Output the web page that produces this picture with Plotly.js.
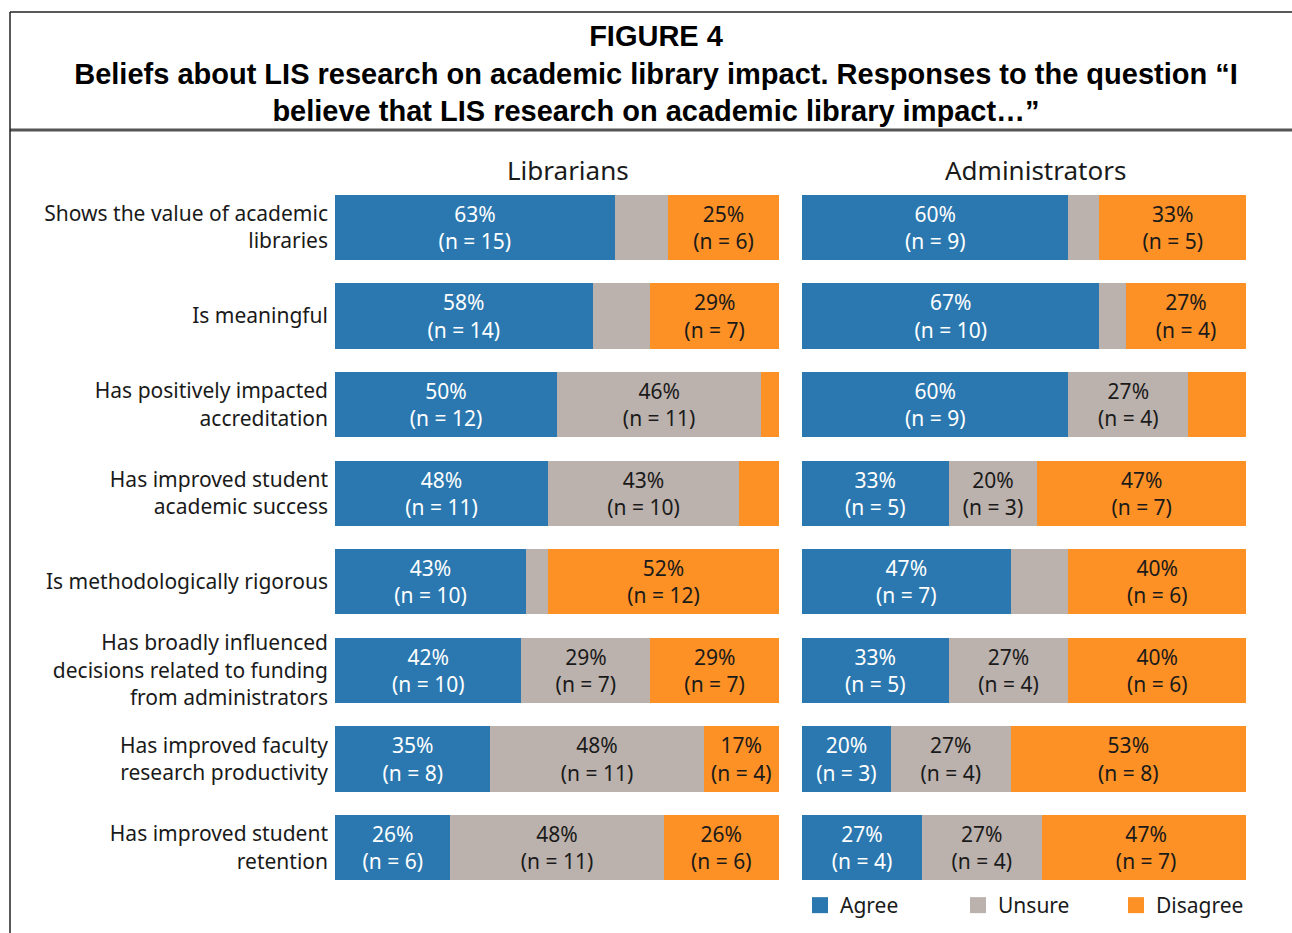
<!DOCTYPE html>
<html>
<head>
<meta charset="utf-8">
<script src="https://cdn.plot.ly/plotly-3.0.1.min.js"></script>
<style>html,body{margin:0;padding:0;background:#fff;}#chart{width:1292px;height:933px;}</style>
</head>
<body>
<div id="chart"></div>
<script>
// Categories (top to bottom)
const categories = [
  "Shows the value of academic<br>libraries",
  "Is meaningful",
  "Has positively impacted<br>accreditation",
  "Has improved student<br>academic success",
  "Is methodologically rigorous",
  "Has broadly influenced<br>decisions related to funding<br>from administrators",
  "Has improved faculty<br>research productivity",
  "Has improved student<br>retention"
];
const seriesNames = ["Agree", "Unsure", "Disagree"];
const panelTitles = ["Librarians", "Administrators"];

// Librarians: percentages and counts (null count = segment not labelled)
const libAgreePct    = [63, 58, 50, 48, 43, 42, 35, 26];
const libAgreeN      = [15, 14, 12, 11, 10, 10, 8, 6];
const libUnsurePct   = [12, 13, 46, 43, 5, 29, 48, 48];
const libUnsureN     = [null, null, 11, 10, null, 7, 11, 11];
const libDisagreePct = [25, 29, 4, 9, 52, 29, 17, 26];
const libDisagreeN   = [6, 7, null, null, 12, 7, 4, 6];

// Administrators
const admAgreePct    = [60, 67, 60, 33, 47, 33, 20, 27];
const admAgreeN      = [9, 10, 9, 5, 7, 5, 3, 4];
const admUnsurePct   = [7, 6, 27, 20, 13, 27, 27, 27];
const admUnsureN     = [null, null, 4, 3, null, 4, 4, 4];
const admDisagreePct = [33, 27, 13, 47, 40, 40, 53, 47];
const admDisagreeN   = [5, 4, null, 7, 6, 6, 8, 7];

const colors = ["#2A78AF", "#BBB1AD", "#FD9126"];
const textColors = ["#ffffff", "#1a1a1a", "#1a1a1a"];

function labels(pct, n) {
  return pct.map((p, i) => n[i] === null ? "" : p + "%<br>(n = " + n[i] + ")");
}

const W = 1292, H = 933;
const px = v => v / W;
const py = v => 1 - v / H;

const panels = [
  {xa: "x", ya: "y", data: [[libAgreePct, libAgreeN], [libUnsurePct, libUnsureN], [libDisagreePct, libDisagreeN]]},
  {xa: "x2", ya: "y2", data: [[admAgreePct, admAgreeN], [admUnsurePct, admUnsureN], [admDisagreePct, admDisagreeN]]}
];

const traces = [];
panels.forEach(p => {
  p.data.forEach((d, k) => {
    traces.push({
      type: "bar", orientation: "h",
      x: d[0], y: categories,
      xaxis: p.xa, yaxis: p.ya,
      name: seriesNames[k],
      marker: {color: colors[k], line: {width: 0}},
      text: labels(d[0], d[1]),
      textposition: "inside", insidetextanchor: "middle",
      textangle: 0, constraintext: "none",
      textfont: {family: "Noto Sans, sans-serif", size: 21, color: textColors[k]},
      hoverinfo: "skip", showlegend: false
    });
  });
});
// legend entries
seriesNames.forEach((s, k) => {
  traces.push({
    type: "scatter", mode: "markers", x: [null], y: [null],
    xaxis: "x2", yaxis: "y2", name: s,
    marker: {symbol: "square", size: 16, color: colors[k]},
    showlegend: true, hoverinfo: "skip"
  });
});

const yDom = [py(892), py(183)];
const layout = {
  width: W, height: H,
  margin: {l: 0, r: 0, t: 0, b: 0},
  paper_bgcolor: "#ffffff", plot_bgcolor: "#ffffff",
  barmode: "stack", bargap: 0.265,
  font: {family: "Noto Sans, sans-serif", size: 21, color: "#1a1a1a"},
  title: {
    text: "<b>FIGURE 4</b><br><b>Beliefs about LIS research on academic library impact. Responses to the question “I</b><br><b>believe that LIS research on academic library impact…”</b>",
    font: {family: "Liberation Sans, Arial, sans-serif", size: 29, color: "#000"},
    x: px(656), xanchor: "center", y: py(46), yanchor: "top"
  },
  xaxis: {domain: [px(335), px(779)], range: [0, 100], showgrid: false, zeroline: false, showticklabels: false, showline: false, fixedrange: true},
  yaxis: {domain: yDom, autorange: "reversed", showgrid: false, zeroline: false, showline: false, ticks: "", ticklabelstandoff: 6,
          tickfont: {family: "Noto Sans, sans-serif", size: 21, color: "#1a1a1a"}, fixedrange: true},
  xaxis2: {domain: [px(802), px(1246)], range: [0, 100], anchor: "y2", showgrid: false, zeroline: false, showticklabels: false, showline: false, fixedrange: true},
  yaxis2: {domain: yDom, anchor: "x2", autorange: "reversed", showgrid: false, zeroline: false, showline: false, showticklabels: false, ticks: "", fixedrange: true},
  showlegend: true,
  legend: {orientation: "h", traceorder: "normal", x: px(800), xanchor: "left", y: py(885), yanchor: "top",
           font: {family: "Noto Sans, sans-serif", size: 21, color: "#1a1a1a"},
           entrywidth: 113, itemwidth: 30, bgcolor: "rgba(0,0,0,0)", tracegroupgap: 0},
  annotations: [
    {text: panelTitles[0], x: px(568), y: py(170), xref: "paper", yref: "paper", showarrow: false, xanchor: "center", yanchor: "middle", font: {size: 26, color: "#1a1a1a"}},
    {text: panelTitles[1], x: px(1035), y: py(170), xref: "paper", yref: "paper", showarrow: false, xanchor: "center", yanchor: "middle", font: {size: 26, color: "#1a1a1a"}}
  ],
  shapes: [
    {type: "line", xref: "paper", yref: "paper", x0: px(10), x1: 1, y0: py(12), y1: py(12), line: {color: "#222", width: 1.5}},
    {type: "line", xref: "paper", yref: "paper", x0: px(10), x1: 1, y0: py(130), y1: py(130), line: {color: "#555", width: 3}},
    {type: "line", xref: "paper", yref: "paper", x0: px(10), x1: px(10), y0: py(12), y1: 0, line: {color: "#222", width: 1.5}}
  ]
};

Plotly.newPlot("chart", traces, layout, {displayModeBar: false, staticPlot: true});
</script>
</body>
</html>
